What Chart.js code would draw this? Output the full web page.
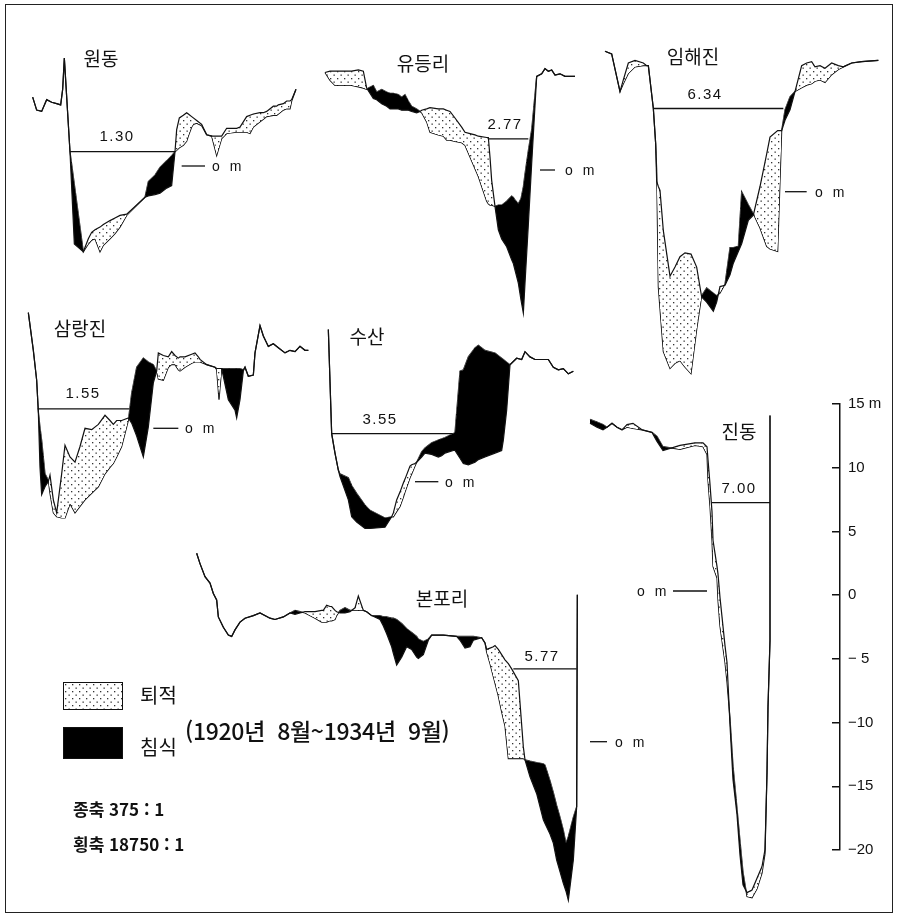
<!DOCTYPE html>
<html lang="ko">
<head>
<meta charset="utf-8">
<title>하도 횡단면 변화</title>
<script src="https://cdn.jsdelivr.net/npm/chart.js@4.4.1/dist/chart.umd.min.js"></script>
<style>
  html, body { margin: 0; padding: 0; background: #fff; }
  #page { position: relative; width: 899px; height: 920px; overflow: hidden; font-family: "Noto Sans CJK KR", sans-serif; color: #111; }
  #frame { position: absolute; left: 5px; top: 4px; width: 886px; height: 907px; border: 1.5px solid #222; }
  canvas { position: absolute; }
  .t { position: absolute; white-space: nowrap; transform: translate(-50%, -50%); line-height: 1; }
  .l { position: absolute; white-space: nowrap; transform: translate(0, -50%); line-height: 1; }
  .name { font-size: 19px; }
  .lvl { font-family: "Liberation Sans", sans-serif; font-size: 15px; letter-spacing: 1.5px; }
  .zero { font-family: "Liberation Sans", sans-serif; font-size: 14px; letter-spacing: 3px; }
  .box { position: absolute; border: 1.5px solid #111; box-sizing: border-box; }
  .leg { font-size: 20px; }
  .period { font-size: 23px; font-weight: 500; letter-spacing: -0.3px; word-spacing: 6px; }
  .scale { font-size: 17px; font-weight: 700; }
</style>
</head>
<body>
<div id="page">
  <div id="frame"></div>
  <canvas id="sections" width="899" height="920" style="left:0;top:0;width:899px;height:920px"></canvas>
  <canvas id="axis" width="99" height="480" style="left:800px;top:387px;width:99px;height:480px"></canvas>
</div>
<script>
// 원동, 유등리, 임해진, 삼랑진, 수산, 진동, 본포리
const names = ["원동", "유등리", "임해진", "삼랑진", "수산", "진동", "본포리"];

// distance across the section (m) and bed elevation (m) in 1920 and 1934
const wondongDist = [38,50,65,80,95,110,122,128,133,150,163,190,205,215,225,240,250,270,285,300,320,375,385,405,420,440,455,465,470,478,490,500,505,515,520,530,545,560,575,590,605,620,650,660,680,690,700,720,730,740,760,770,775,790,800,810,815,828];
const wondong1934 = [5.3,4.3,4.2,5.1,4.9,4.8,4.7,5.9,8.3,1.1,-6.0,-6.6,-5.6,-5.1,-4.9,-4.7,-4.5,-4.2,-4.0,-3.8,-3.7,-2.4,-2.3,-2.2,-2.1,-1.7,-1.5,1.1,2.8,3.7,3.9,4.1,4.0,3.8,3.7,3.5,3.2,2.4,2.3,2.3,2.3,2.9,2.9,3.0,3.8,3.9,4.0,4.1,4.1,4.2,4.6,4.6,4.7,4.8,5.0,5.0,5.1,5.9];
const wondong1920 = [5.3,4.3,4.2,5.1,4.9,4.8,4.7,5.9,8.3,1.1,-1.4,-6.6,-6.0,-5.7,-5.6,-6.6,-6.1,-5.6,-5.2,-4.7,-3.8,-2.4,-1.2,-0.7,-0.1,0.4,0.8,1.1,1.2,1.4,1.6,1.9,2.3,3.0,3.2,3.3,3.1,2.4,2.3,0.8,2.1,2.5,2.6,2.6,2.6,2.5,3.0,3.4,3.6,3.8,3.9,3.9,4.0,4.3,4.4,4.4,5.0,5.9];

const yudeungDist = [30,45,60,90,110,130,145,155,160,175,185,200,215,225,235,250,260,270,280,290,305,315,320,335,345,370,385,395,405,420,440,450,465,480,490,515,520,525,530,540,550,560,575,590,595,600,610,618,625,630,640,650,665,680,690,700,710,720,735,750,780];
const yudeung1934 = [7.5,7.6,7.6,7.6,7.6,7.7,7.6,6.3,6.1,5.5,5.4,5.1,4.9,4.7,4.7,4.7,4.6,4.6,4.6,4.5,4.4,4.5,4.6,4.7,4.8,4.7,4.7,4.6,4.5,4.0,3.3,2.9,2.8,2.7,2.6,2.5,2.5,1.0,-0.8,-2.8,-4.6,-5.3,-5.9,-6.9,-7.2,-7.7,-8.7,-10.0,-11.0,-8.7,-4.2,0.5,7.2,7.4,7.8,7.6,7.7,7.3,7.4,7.2,7.2];
const yudeung1920 = [7.5,6.9,6.5,6.5,6.5,6.4,6.3,6.2,6.3,6.5,6.0,6.2,6.0,5.9,5.9,5.8,5.6,5.8,5.3,4.9,4.7,4.5,4.4,3.7,2.9,2.7,2.6,2.3,2.3,2.2,2.1,1.9,1.0,0.1,-0.5,-2.4,-2.6,-2.7,-2.7,-2.8,-2.7,-2.7,-2.4,-2.0,-2.1,-2.3,-2.6,-2.2,-1.3,-0.3,1.5,3.1,7.2,7.4,7.8,7.6,7.7,7.3,7.4,7.2,7.2];

const imhaeDist = [60,80,105,115,130,150,175,185,190,205,212,215,220,225,235,255,270,285,300,318,335,350,365,385,395,405,420,435,445,460,470,490,505,525,545,555,578,590,600,615,630,650,665,680,690,705,720,740,760,775,800,830,880];
const imhae1934 = [10.8,10.6,7.7,8.6,9.9,10.1,9.9,9.7,9.7,6.4,3.7,0.8,0.4,0.1,-3.0,-6.5,-5.8,-5.0,-4.7,-4.8,-5.8,-8.1,-8.5,-9.2,-8.5,-7.3,-7.2,-6.4,-5.5,-4.6,-4.0,-2.2,-1.8,0.4,2.9,4.2,4.7,4.7,5.5,6.3,7.7,9.7,9.9,10.0,9.6,9.7,9.5,9.9,9.7,9.6,9.9,10.0,10.1];
const imhae1920 = [10.8,10.6,7.7,8.3,9.1,9.6,9.7,9.7,9.7,6.4,3.7,1.7,-7.3,-9.0,-12.3,-13.6,-13.2,-13.0,-13.5,-14.0,-10.6,-8.0,-7.4,-7.8,-8.0,-7.8,-7.1,-4.3,-4.3,-4.2,0.0,-1.0,-1.7,-2.8,-4.2,-4.4,-4.6,4.7,6.3,7.3,7.7,8.0,8.2,8.3,8.5,8.6,8.4,9.0,9.4,9.6,9.9,10.0,10.1];

const samnangDist = [40,55,65,70,75,80,90,100,105,115,125,140,150,165,180,195,210,230,250,270,285,295,305,320,340,350,365,385,400,415,425,430,445,460,470,480,490,495,510,530,540,550,555,575,600,605,612,620,640,660,665,675,685,690,700,715,720,735,745,760,775,790,810,825,840,855,870,880];
const samnang1934 = [8.9,6.0,3.7,1.3,-3.0,-5.1,-4.5,-4.1,-3.6,-5.5,-6.5,-3.5,-1.3,-2.2,-2.6,-1.4,0.0,-0.1,0.3,1.0,0.6,0.3,0.6,0.6,0.8,0.4,-0.6,-2.2,0.1,3.5,4.4,5.8,5.6,5.5,5.9,5.6,5.4,5.5,5.5,5.7,5.8,5.5,5.3,4.9,4.7,4.6,4.6,4.6,2.2,1.4,0.8,2.2,4.4,4.7,4.0,4.1,5.8,7.9,7.1,6.3,6.5,6.2,5.8,6.0,5.9,6.3,6.0,6.0];
const samnang1920 = [8.9,6.0,3.7,1.3,0.1,-0.9,-3.5,-4.0,-5.0,-6.5,-6.8,-6.9,-6.9,-5.8,-6.5,-6.0,-5.5,-5.0,-4.5,-3.5,-3.0,-2.7,-2.2,-1.4,0.6,2.7,4.7,5.4,5.1,4.9,4.4,3.8,3.7,4.7,4.9,4.9,4.5,4.4,4.7,5.0,5.1,5.1,5.1,4.9,4.7,4.5,2.2,4.6,4.6,4.6,4.6,4.6,4.5,4.7,4.0,4.1,5.8,7.9,7.1,6.3,6.5,6.2,5.8,6.0,5.9,6.3,6.0,6.0];

const susanDist = [40,50,60,70,75,100,110,125,150,165,210,230,235,245,255,265,270,285,290,300,305,320,330,350,370,380,390,415,420,435,445,460,480,490,510,540,560,565,575,585,605,620,630,645,660,700,715,730,745,760,775];
const susan1934 = [11.7,3.7,2.2,0.9,0.4,-1.4,-2.7,-3.1,-3.6,-3.6,-3.5,-2.7,-2.4,-1.4,-0.8,-0.1,0.2,1.2,1.3,1.4,1.5,1.9,2.2,2.1,1.9,2.0,2.2,2.4,2.4,1.8,1.4,1.3,1.5,1.7,1.9,2.2,2.4,3.2,5.5,9.0,9.5,9.4,10.0,9.6,9.4,9.4,8.8,8.6,8.7,8.3,8.5];
const susan1920 = [11.7,3.7,2.2,0.9,0.6,0.3,-0.3,-0.9,-1.8,-2.2,-2.8,-2.7,-2.7,-2.3,-1.9,-1.2,-0.8,0.3,0.6,1.2,1.5,2.3,2.6,3.0,3.2,3.3,3.4,3.7,3.8,8.5,8.6,9.6,10.3,10.5,10.1,9.9,9.5,9.4,9.2,9.0,9.5,9.4,10.0,9.6,9.4,9.4,8.8,8.6,8.7,8.3,8.5];

const jindongDist = [30,51,69,81,96,111,126,141,159,186,216,231,249,300,345,369,381,384,390,396,399,411,414,420,435,441,450,459,471,480,489,501,516,531,546,555,561,564,570,570];
const jindong1934 = [12.9,12.6,12.4,12.6,12.9,12.6,12.4,12.8,12.9,12.4,12.2,11.5,10.8,11.2,11.4,11.4,11.1,10.1,8.2,6.1,3.9,1.9,1.3,-0.5,-4.2,-5.5,-10.3,-14.5,-17.2,-20.3,-22.6,-23.2,-23.0,-22.1,-21.2,-19.9,-14.0,-8.9,-3.8,13.5];
const jindong1920 = [13.2,13.0,12.8,12.6,12.9,12.6,12.4,12.6,12.5,12.4,12.2,11.9,11.1,10.9,11.2,11.1,10.5,8.5,6.5,3.9,1.9,1.0,-0.7,-2.7,-5.5,-7.0,-9.8,-13.4,-16.7,-19.2,-21.6,-23.5,-23.6,-22.9,-21.7,-20.2,-14.0,-8.9,-3.8,13.5];

const bonpoDist = [20,30,45,60,70,80,85,100,115,125,135,150,165,190,210,240,255,280,300,315,330,345,375,395,400,410,420,425,435,440,450,465,480,495,505,520,530,545,570,580,590,605,610,620,635,650,665,680,685,700,715,725,760,800,810,825,840,850,875,885,890,900,910,915,925,935,945,955,965,985,1000,1005,1020,1040,1060,1065,1080,1090,1100,1110,1120,1128,1135,1150,1160,1162];
const bonpo1934 = [14.5,13.7,12.7,12.2,11.4,10.9,9.6,8.8,8.2,8.1,8.6,9.2,9.5,9.7,9.9,9.5,9.4,9.6,9.9,9.8,9.9,10.0,10.0,10.1,10.1,10.5,10.4,10.4,10.1,10.0,9.9,9.9,10.0,10.3,11.2,10.1,10.0,9.7,9.4,8.9,8.3,7.3,6.8,5.9,6.5,7.3,7.1,6.5,6.4,6.7,7.8,8.2,8.2,8.1,7.8,7.2,7.3,7.8,8.0,7.6,7.1,7.2,7.3,7.4,7.1,6.7,6.3,6.0,5.6,4.7,-0.4,-1.4,-2.7,-4.0,-6.0,-6.3,-7.1,-7.8,-9.1,-10.0,-10.9,-11.5,-12.2,-9.1,-5.0,11.3];
const bonpo1920 = [14.5,13.7,12.7,12.2,11.4,10.9,9.6,8.8,8.2,8.1,8.6,9.2,9.5,9.7,9.9,9.5,9.4,9.6,9.9,10.1,10.0,9.9,9.5,9.2,9.2,9.2,9.3,9.3,9.4,9.7,10.1,10.3,10.1,10.1,10.1,10.1,10.0,9.7,9.7,9.6,9.6,9.5,9.5,9.4,9.1,8.7,8.4,8.1,7.9,7.7,7.9,8.2,8.2,8.1,8.1,8.1,8.1,8.1,8.0,7.6,6.9,6.0,5.0,4.5,3.5,2.3,1.2,-1.3,-1.3,-1.3,-1.3,-1.4,-1.5,-1.6,-1.7,-1.8,-3.0,-3.9,-4.9,-5.8,-6.8,-7.8,-7.3,-5.8,-5.0,11.3];

const sectionDist = [wondongDist, yudeungDist, imhaeDist, samnangDist, susanDist, jindongDist, bonpoDist];
const section1934 = [wondong1934, yudeung1934, imhae1934, samnang1934, susan1934, jindong1934, bonpo1934];
const section1920 = [wondong1920, yudeung1920, imhae1920, samnang1920, susan1920, jindong1920, bonpo1920];

// water surface and the 0 m mark of each section
const waterFrom = [150, 520, 205, 68, 50, 396, 970];
const waterTo = [465, 640, 595, 345, 420, 570, 1160];
const waterLevel = [1.1, 2.4, 6.4, 1.5, 3.7, 6.8, 5.6];
const waterText = ["1.30", "2.77", "6.34", "1.55", "3.55", "7.00", "5.77"];
const zeroFrom = [485, 675, 600, 415, 300, 279, 1200];
const zeroTo = [555, 720, 665, 490, 370, 381, 1251];

// vertical scale bar
const axisTicks = [15, 10, 5, 0, -5, -10, -15, -20];
const axisLabels = ["15 m", "10", "5", "0", "− 5", "−10", "−15", "−20"];

// where each section sits on the sheet
const PX_PER_M = 13;
const originX = [20, 315, 585, 15, 315, 580, 190];
const zeroY = [166, 170, 191.7, 428.3, 481.7, 591, 741.7];
const namePos = [[101, 57], [423, 62], [693, 55], [80, 327], [367, 335], [739, 430], [442, 597]];
const levelPos = [[117, 135], [505, 123], [705, 93], [83, 392], [380, 418], [739, 487], [542, 655]];
const zeroTextPos = [[212, 166], [565, 170], [815, 192], [185, 428], [445, 482], [637, 591], [615, 742]];

function dotTile() {
  const c = document.createElement("canvas");
  c.width = 7;
  c.height = 7;
  const g = c.getContext("2d");
  g.fillStyle = "#fff";
  g.fillRect(0, 0, 7, 7);
  g.fillStyle = "#333";
  g.fillRect(1, 1, 1.3, 1.3);
  g.fillRect(4.5, 4.5, 1.3, 1.3);
  return c;
}

const tile = dotTile();
const ctx = document.getElementById("sections").getContext("2d");
const dots = ctx.createPattern(tile, "repeat");

const scales = {};
const datasets = [];
names.forEach((name, i) => {
  const xid = "x" + i;
  const yid = "y" + i;
  scales[xid] = { type: "linear", display: false, min: -3 * originX[i], max: 3 * (899 - originX[i]) };
  scales[yid] = { type: "linear", display: false, min: (zeroY[i] - 920) / PX_PER_M, max: zeroY[i] / PX_PER_M };

  const pts = (arr) => sectionDist[i].map((d, k) => ({ x: d, y: arr[k] }));
  const base = { xAxisID: xid, yAxisID: yid, borderColor: "#111", borderWidth: 1.2, pointRadius: 0, tension: 0 };

  datasets.push({ ...base, label: name + " 1934", data: pts(section1934[i]),
    fill: { target: "+1", above: dots, below: "#000" } });
  datasets.push({ ...base, label: name + " 1920", data: pts(section1920[i]), fill: false });
  datasets.push({ ...base, label: name + " 수위", borderWidth: 1.3, fill: false,
    data: [{ x: waterFrom[i], y: waterLevel[i] }, { x: waterTo[i], y: waterLevel[i] }] });
  datasets.push({ ...base, label: name + " 0 m", borderWidth: 1.3, fill: false,
    data: [{ x: zeroFrom[i], y: 0 }, { x: zeroTo[i], y: 0 }] });
});

new Chart(ctx, {
  type: "line",
  data: { datasets: datasets },
  options: {
    responsive: false,
    animation: false,
    devicePixelRatio: 1,
    events: [],
    layout: { padding: 0 },
    plugins: { legend: { display: false }, tooltip: { enabled: false } },
    scales: scales,
  },
});

new Chart(document.getElementById("axis"), {
  type: "line",
  data: { datasets: [{ data: [] }] },
  options: {
    responsive: false,
    animation: false,
    devicePixelRatio: 1,
    events: [],
    layout: { padding: { left: 32, top: 12, bottom: 12, right: 0 } },
    plugins: { legend: { display: false }, tooltip: { enabled: false } },
    scales: {
      x: { type: "linear", display: false, min: 0, max: 1 },
      y: {
        type: "linear",
        position: "right",
        min: -20,
        max: 15,
        afterFit: (s) => { s.width = 59; },
        border: { display: true, color: "#111", width: 1.5 },
        grid: { drawOnChartArea: true, drawTicks: false, color: "#111", lineWidth: 1.5 },
        ticks: {
          stepSize: 5,
          padding: 8,
          color: "#111",
          font: { family: "Liberation Sans", size: 15 },
          callback: (v) => { const k = axisTicks.indexOf(v); return k < 0 ? "" : axisLabels[k]; },
        },
      },
    },
  },
});

// texts
const page = document.getElementById("page");
function addText(cls, text, x, y) {
  const el = document.createElement("div");
  el.className = cls;
  el.textContent = text;
  el.style.left = x + "px";
  el.style.top = y + "px";
  page.appendChild(el);
  return el;
}
names.forEach((name, i) => {
  addText("t name", name, namePos[i][0], namePos[i][1]);
  addText("t lvl", waterText[i], levelPos[i][0], levelPos[i][1]);
  addText("l zero", "o m", zeroTextPos[i][0], zeroTextPos[i][1]);
});

const dotBox = document.createElement("div");
dotBox.className = "box";
Object.assign(dotBox.style, { left: "63px", top: "682px", width: "60px", height: "28px",
  backgroundImage: "url(" + tile.toDataURL() + ")" });
page.appendChild(dotBox);
const blackBox = document.createElement("div");
blackBox.className = "box";
Object.assign(blackBox.style, { left: "63px", top: "727px", width: "60px", height: "32px", background: "#000" });
page.appendChild(blackBox);

addText("l leg", "퇴적", 140, 695);
addText("l leg", "침식", 140, 747);
addText("l period", "(1920년 8월~1934년 9월)", 185, 730);
addText("l scale", "종축 375 : 1", 73, 808);
addText("l scale", "횡축 18750 : 1", 73, 843);
</script>
</body>
</html>
